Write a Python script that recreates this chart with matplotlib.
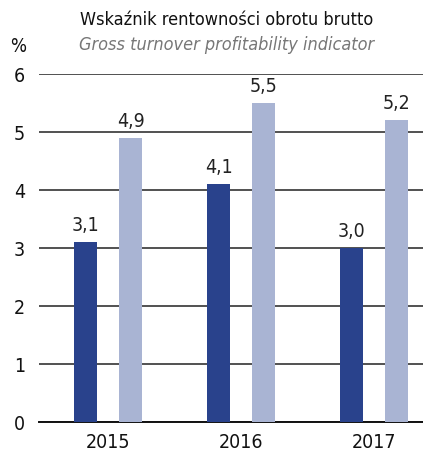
import numpy as np
import matplotlib.pyplot as plt

plt.rcParams['font.family'] = ['DejaVu Sans']
plt.rcParams['font.stretch'] = 'condensed'

years = ['2015', '2016', '2017']
dark_vals = [3.1, 4.1, 3.0]
light_vals = [4.9, 5.5, 5.2]
dark_color = '#29428c'
light_color = '#a9b4d3'

fig = plt.figure(figsize=(4.23, 4.57), dpi=100)
ax = fig.add_axes([39 / 423, 1 - 422 / 457, (423 - 39) / 423, (422 - 74) / 457])

x = np.arange(len(years))
w = 0.173
off = 0.169
b1 = ax.bar(x - off, dark_vals, w, color=dark_color, zorder=3)
b2 = ax.bar(x + off, light_vals, w, color=light_color, zorder=3)

for bars, vals in ((b1, dark_vals), (b2, light_vals)):
    for r, v in zip(bars, vals):
        ax.annotate(f'{v:.1f}'.replace('.', ','), (r.get_x() + r.get_width() / 2, v),
                    xytext=(0, 5), textcoords='offset points', ha='center', va='bottom',
                    fontsize=14, color='#222222')

ax.set_xlim(-0.519, 2.368)
ax.set_ylim(0, 6)
ax.set_yticks(range(0, 7))
ax.set_xticks(x)
ax.set_xticklabels(years)
ax.yaxis.grid(True, color='#222222', linewidth=1.1, zorder=0)
for s in ['top', 'right', 'left']:
    ax.spines[s].set_visible(False)
ax.spines['bottom'].set_color('#111111')
ax.spines['bottom'].set_linewidth(1.4)
ax.tick_params(axis='both', length=0, labelsize=14, colors='#111111')
ax.tick_params(axis='y', pad=14)
ax.tick_params(axis='x', pad=8)
for t in ax.get_yticklabels():
    t.set_horizontalalignment('center')

fig.text(0.535, 1 - 20 / 457, 'Wskaźnik rentowności obrotu brutto', ha='center', va='center',
         fontsize=13, color='#111111')
fig.text(0.535, 1 - 45 / 457, 'Gross turnover profitability indicator', ha='center', va='center',
         fontsize=13, style='italic', color='#777777')
fig.text(18 / 423, 1 - 46 / 457, '%', ha='center', va='center', fontsize=13.5, color='#111111')

fig.savefig('out.png', dpi=100)
